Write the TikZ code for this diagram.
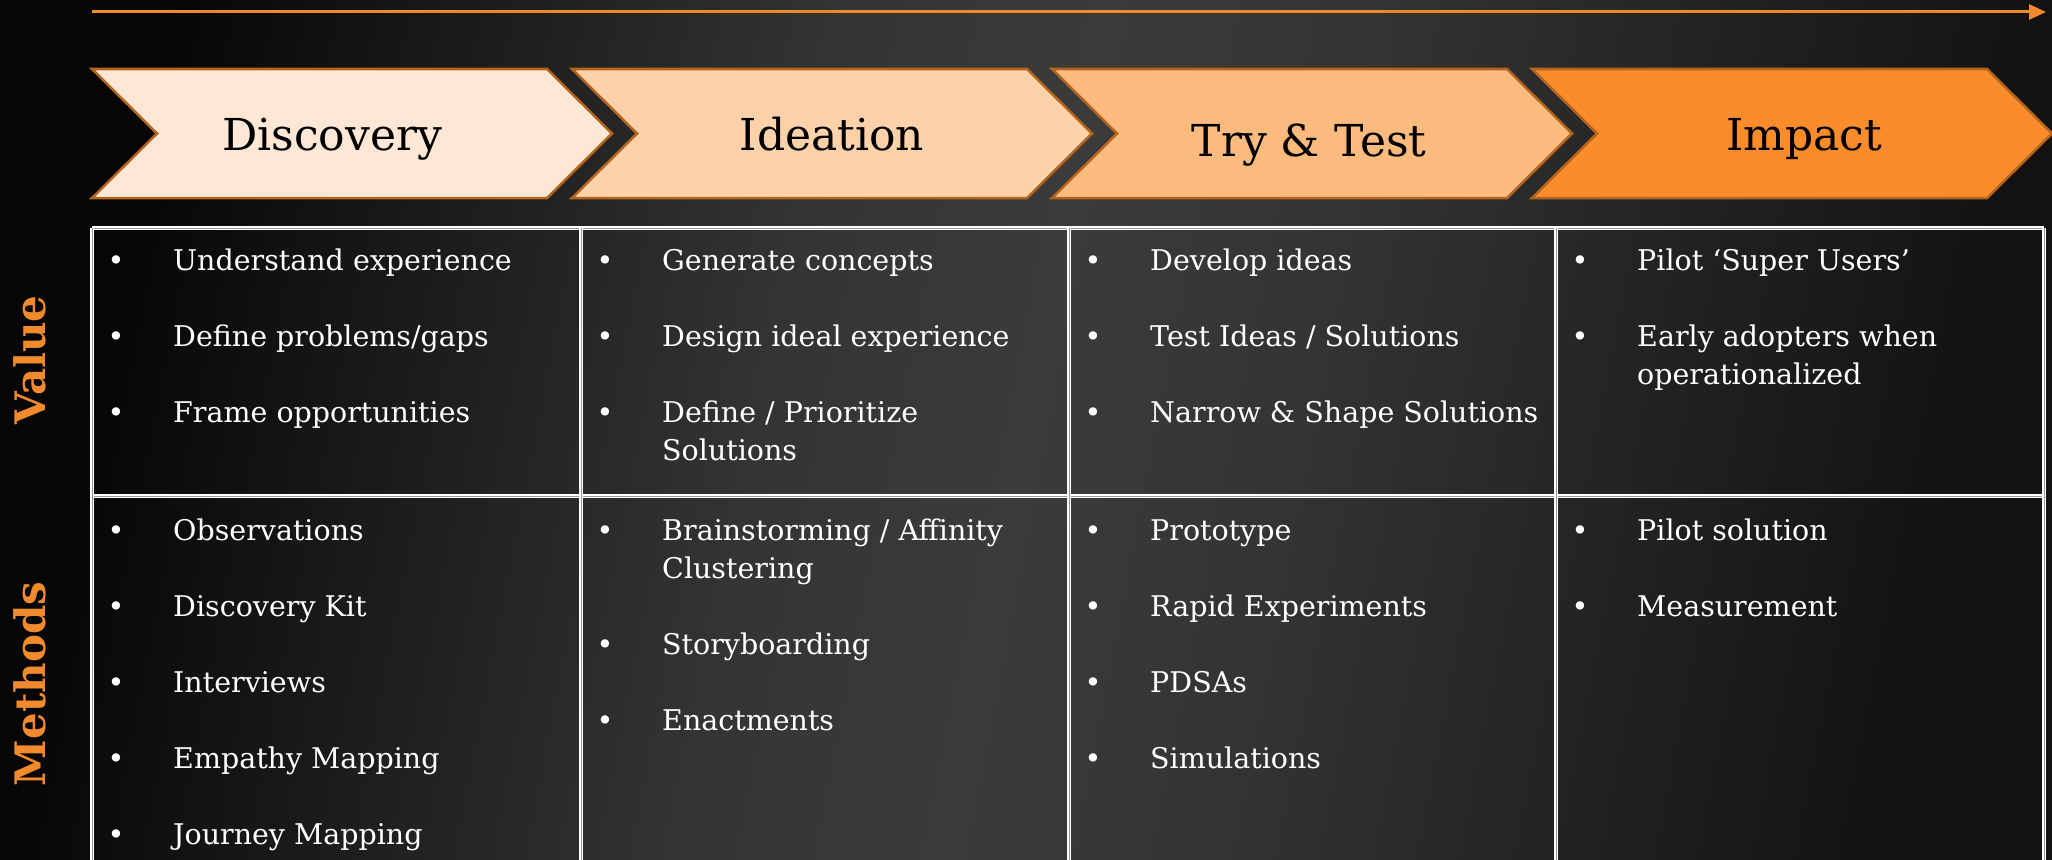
\documentclass[tikz,border=0pt]{standalone}
\usepackage{fontspec}
\setmainfont{DejaVu Serif}
\usetikzlibrary{arrows.meta}
\definecolor{bgA}{HTML}{060606}
\definecolor{bgB}{HTML}{3B3B3B}
\definecolor{bgBB}{HTML}{343434}
\definecolor{bgC}{HTML}{121212}
\definecolor{chevA}{HTML}{FEE8D5}
\definecolor{chevB}{HTML}{FDD2AA}
\definecolor{chevC}{HTML}{FBBA7E}
\definecolor{chevD}{HTML}{FB8C2C}
\definecolor{chevline}{HTML}{B5641E}
\definecolor{accent}{HTML}{F08A2C}
\definecolor{seam}{HTML}{9A9A9A}
\pgfdeclarehorizontalshading{bgshade}{100bp}{color(0bp)=(bgA); color(25bp)=(bgA); color(43bp)=(bgBB); color(50bp)=(bgB); color(57bp)=(bgBB); color(75bp)=(bgC); color(100bp)=(bgC)}
\tikzset{
  chevbox/.style={draw=chevline, line width=2.5pt, line join=miter},
  chevtext/.style={font=\fontsize{44}{50}\selectfont, text=black, inner sep=0pt, anchor=base},
  gridline/.style={draw=white, line width=1.4pt, double=seam, double distance=0.7pt},
  bul/.style={font=\fontsize{28.5}{38}\selectfont, text=white, inner sep=0pt, anchor=base},
  itemtext/.style={font=\fontsize{28.5}{38}\selectfont, text=white, inner sep=0pt, anchor=base west},
  rowlabel/.style={font=\bfseries\fontsize{42}{48}\selectfont, text=accent, rotate=90, inner sep=0pt},
  timearrow/.style={draw=accent, line width=3pt, -{Triangle[length=17pt,width=15pt]}}
}
\newcommand{\chevpath}[2]{%
  (#1,69) -- (#1+455,69) -- (#1+520,133.5) -- (#1+455,198) -- (#1,198) -- (#1+65,133.5) -- cycle}
\newcommand{\itm}[4]{%
  \node[bul] (#1b) at (#2+24,#3) {•};
  \node[itemtext] (#1) at (#2+81,#3) {\begin{tabular}[t]{@{}l@{}}#4\end{tabular}};}
\begin{document}
\begin{tikzpicture}[x=1pt,y=-1pt]
\useasboundingbox (0,0) rectangle (2052,859);
\shade[shading=bgshade, shading angle=-11] (0,0) rectangle (2052,859);

% time arrow
\coordinate (astart) at (92,12);
\coordinate (aend) at (2046,12);
\draw[timearrow] (astart) -- (aend);

% chevrons
\fill[chevA] \chevpath{92}{};
\draw[chevbox] \chevpath{92}{};
\fill[chevB] \chevpath{572}{};
\draw[chevbox] \chevpath{572}{};
\fill[chevC] \chevpath{1052}{};
\draw[chevbox] \chevpath{1052}{};
\fill[chevD] \chevpath{1532}{};
\draw[chevbox] \chevpath{1532}{};
\node[chevtext] (disc) at (332,150) {Discovery};
\node[chevtext] (idea) at (832,150) {Ideation};
\node[chevtext] (try) at (1309,156) {Try \& Test};
\node[chevtext] (imp) at (1804,150) {Impact};

% grid
\draw[gridline] (92,228) -- (2044,228);
\draw[gridline] (92,496) -- (2044,496);
\foreach \gx in {92,581,1069,1556,2044}{
  \draw[gridline] (\gx,228) -- (\gx,875);
}

% row labels
\node[rowlabel] (lval) at (30,360) {Value};
\node[rowlabel] (lmeth) at (30,684) {Methods};

% Value row
\itm{va1}{92}{270}{Understand experience}
\itm{va2}{92}{346}{Define problems/gaps}
\itm{va3}{92}{422}{Frame opportunities}
\itm{vb1}{581}{270}{Generate concepts}
\itm{vb2}{581}{346}{Design ideal experience}
\itm{vb3}{581}{422}{Define / Prioritize\\Solutions}
\itm{vc1}{1069}{270}{Develop ideas}
\itm{vc2}{1069}{346}{Test Ideas / Solutions}
\itm{vc3}{1069}{422}{Narrow \& Shape Solutions}
\itm{vd1}{1556}{270}{Pilot ‘Super Users’}
\itm{vd2}{1556}{346}{Early adopters when\\operationalized}

% Methods row
\itm{ma1}{92}{540}{Observations}
\itm{ma2}{92}{616}{Discovery Kit}
\itm{ma3}{92}{692}{Interviews}
\itm{ma4}{92}{768}{Empathy Mapping}
\itm{ma5}{92}{844}{Journey Mapping}
\itm{mb1}{581}{540}{Brainstorming / Affinity\\Clustering}
\itm{mb2}{581}{654}{Storyboarding}
\itm{mb3}{581}{730}{Enactments}
\itm{mc1}{1069}{540}{Prototype}
\itm{mc2}{1069}{616}{Rapid Experiments}
\itm{mc3}{1069}{692}{PDSAs}
\itm{mc4}{1069}{768}{Simulations}
\itm{md1}{1556}{540}{Pilot solution}
\itm{md2}{1556}{616}{Measurement}
\end{tikzpicture}
\end{document}
